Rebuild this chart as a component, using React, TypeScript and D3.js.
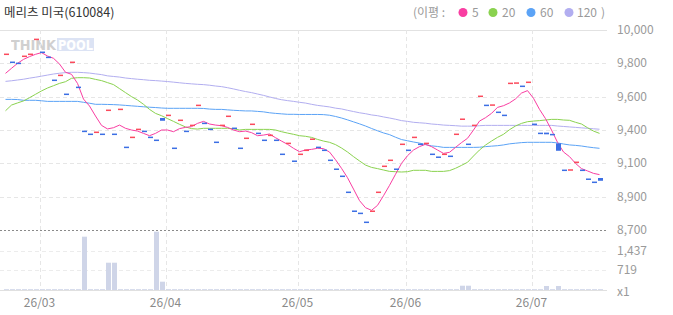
import React from 'react';
import * as d3 from 'd3';

// ---- data (daily, 100 sessions) ----
const closes = [
  9842, 9790, 9783, 9829, 9842, 9939, 9855, 9822, 9673, 9705,
  9582, 9790, 9627, 9341, 9322, 9335, 9322, 9478, 9322, 9484,
  9237, 9302, 9354, 9341, 9302, 9283, 9410, 9445, 9231, 9413,
  9341, 9380, 9510, 9393, 9354, 9270, 9380, 9439, 9361, 9231,
  9296, 9387, 9328, 9283, 9315, 9283, 9192, 9263, 9147, 9192,
  9218, 9290, 9237, 9218, 9153, 9095, 9049, 8945, 8822, 8808,
  8750, 8822, 8945, 9114, 9153, 9095, 9257, 9218, 9302, 9257,
  9263, 9192, 9173, 9192, 9179, 9322, 9420, 9257, 9380, 9569,
  9510, 9512, 9465, 9445, 9653, 9655, 9634, 9660, 9387, 9328,
  9322, 9320, 9215, 9088, 9090, 9140, 9088, 9030, 9010, 9020,
];

const opens = [
  9842, 9790, 9783, 9829, 9842, 9939, 9855, 9822, 9673, 9705,
  9582, 9790, 9627, 9341, 9322, 9335, 9322, 9478, 9322, 9484,
  9237, 9302, 9354, 9341, 9302, 9283, 9428, 9445, 9231, 9413,
  9341, 9380, 9510, 9393, 9354, 9270, 9380, 9439, 9361, 9231,
  9296, 9387, 9328, 9283, 9315, 9283, 9192, 9263, 9147, 9192,
  9218, 9290, 9237, 9218, 9153, 9095, 9049, 8945, 8822, 8808,
  8750, 8822, 8945, 9114, 9153, 9095, 9257, 9218, 9302, 9257,
  9263, 9192, 9173, 9192, 9179, 9322, 9420, 9257, 9380, 9569,
  9510, 9512, 9465, 9445, 9653, 9655, 9634, 9660, 9387, 9328,
  9333, 9320, 9263, 9088, 9090, 9140, 9088, 9030, 9010, 9038,
];

const volumes = [
  30, 30, 30, 30, 30, 30, 30, 30, 30, 30,
  30, 30, 30, 1965, 30, 30, 30, 1006, 1006, 30,
  30, 30, 30, 30, 30, 2150, 306, 30, 30, 30,
  30, 30, 30, 30, 30, 30, 30, 30, 30, 30,
  30, 30, 30, 30, 30, 30, 30, 30, 30, 30,
  30, 30, 30, 30, 30, 30, 30, 30, 30, 30,
  30, 30, 30, 30, 30, 30, 30, 30, 30, 30,
  30, 30, 30, 30, 30, 30, 158, 158, 30, 30,
  30, 30, 30, 30, 30, 30, 30, 30, 30, 30,
  147, 30, 147, 30, 30, 30, 30, 30, 30, 30,
];

const ma5 = [
  9718, 9751, 9783, 9809, 9827, 9842, 9853, 9831, 9816, 9779,
  9725, 9712, 9653, 9551, 9506, 9441, 9380, 9357, 9365, 9382,
  9361, 9350, 9343, 9328, 9313, 9328, 9350, 9350, 9339, 9359,
  9367, 9372, 9393, 9406, 9389, 9382, 9378, 9367, 9350, 9339,
  9343, 9333, 9313, 9317, 9324, 9300, 9278, 9257, 9231, 9209,
  9220, 9224, 9231, 9229, 9207, 9157, 9101, 9040, 8966, 8891,
  8845, 8828, 8860, 8923, 8990, 9062, 9133, 9183, 9220, 9242,
  9257, 9242, 9220, 9198, 9205, 9237, 9268, 9296, 9350, 9408,
  9430, 9458, 9497, 9508, 9526, 9552, 9590, 9606, 9556, 9484,
  9424, 9350, 9270, 9207, 9177, 9133, 9099, 9084, 9068, 9060,
];

const ma20 = [
  9475, 9512, 9526, 9539, 9560, 9582, 9604, 9623, 9638, 9653,
  9664, 9686, 9690, 9690, 9688, 9679, 9671, 9658, 9645, 9619,
  9593, 9567, 9545, 9517, 9484, 9458, 9443, 9424, 9406, 9387,
  9370, 9359, 9356, 9361, 9361, 9361, 9361, 9361, 9358, 9350,
  9354, 9354, 9354, 9354, 9354, 9350, 9339, 9330, 9322, 9313,
  9309, 9302, 9289, 9278, 9270, 9255, 9233, 9207, 9177, 9149,
  9122, 9107, 9099, 9090, 9081, 9079, 9077, 9079, 9088, 9088,
  9088, 9081, 9081, 9081, 9086, 9101, 9120, 9140, 9181, 9220,
  9252, 9278, 9302, 9322, 9352, 9376, 9393, 9404, 9408, 9411,
  9415, 9419, 9419, 9415, 9413, 9400, 9389, 9365, 9343, 9328,
];

const ma60 = [
  9549, 9549, 9548, 9543, 9543, 9543, 9540, 9536, 9536, 9536,
  9536, 9536, 9536, 9530, 9524, 9517, 9517, 9516, 9515, 9513,
  9510, 9507, 9504, 9501, 9498, 9496, 9493, 9491, 9491, 9491,
  9491, 9491, 9491, 9490, 9486, 9484, 9484, 9481, 9478, 9476,
  9474, 9474, 9471, 9468, 9462, 9458, 9455, 9452, 9452, 9451,
  9451, 9451, 9451, 9450, 9446, 9438, 9428, 9416, 9403, 9390,
  9376, 9360, 9345, 9331, 9320, 9303, 9288, 9280, 9272, 9265,
  9255, 9247, 9243, 9237, 9237, 9237, 9237, 9237, 9237, 9238,
  9242, 9245, 9248, 9253, 9260, 9264, 9268, 9270, 9270, 9270,
  9270, 9270, 9266, 9259, 9253, 9250, 9246, 9240, 9235, 9231,
];

const ma120 = [
  9666, 9670, 9675, 9680, 9687, 9693, 9700, 9707, 9714, 9719,
  9723, 9725, 9725, 9723, 9720, 9715, 9710, 9702, 9698, 9694,
  9688, 9684, 9680, 9677, 9673, 9671, 9668, 9665, 9661, 9657,
  9653, 9650, 9647, 9645, 9641, 9636, 9632, 9625, 9617, 9608,
  9600, 9593, 9584, 9575, 9565, 9555, 9547, 9541, 9536, 9530,
  9525, 9517, 9510, 9505, 9500, 9492, 9487, 9478, 9470, 9462,
  9456, 9448, 9443, 9435, 9428, 9420, 9411, 9406, 9400, 9397,
  9394, 9389, 9386, 9382, 9380, 9378, 9375, 9375, 9375, 9378,
  9380, 9380, 9380, 9380, 9380, 9380, 9380, 9380, 9380, 9380,
  9380, 9380, 9376, 9373, 9370, 9367, 9364, 9361, 9358, 9355,
];

// axis ticks
const priceTickValues = [10000, 9783, 9567, 9350, 9133, 8917, 8700];
const priceTickLabels = ['10,000', '9,800', '9,600', '9,400', '9,100', '8,900', '8,700'];
const volTickValues = [1437, 719, 0];
const volTickLabels = ['1,437', '719', 'x1'];
const monthStartIdx = [6, 27, 49, 67, 88];
const monthLabels = ['26/03', '26/04', '26/05', '26/06', '26/07'];

const maSeries = [
  { name: '5', values: ma5, color: '#f93ea2' },
  { name: '20', values: ma20, color: '#8ad24f' },
  { name: '60', values: ma60, color: '#5ba3f6' },
  { name: '120', values: ma120, color: '#b2aef0' },
];

const UP = '#fb4a5c';
const DOWN = '#3c6fe4';
const FONT = '"Noto Sans CJK KR", "Noto Sans", sans-serif';

export default function App() {
  const width = 673;
  const height = 315;

  const x = d3.scaleBand<number>().domain(d3.range(closes.length)).range([3, 603]);
  const y = d3.scaleLinear().domain([8700, 10000]).range([230, 30]);
  const yv = d3.scaleLinear().domain([0, 2156]).range([290, 231.5]);

  const line = d3
    .line<number>()
    .x((_, i) => (x(i) as number) + 2.5)
    .y((v) => y(v));

  const candleColor = (i: number) => {
    if (opens[i] !== closes[i]) return closes[i] > opens[i] ? UP : DOWN;
    if (i === 0) return UP;
    return closes[i] >= closes[i - 1] ? UP : DOWN;
  };

  const legendItems = [
    { cx: 463, tx: 472 },
    { cx: 493, tx: 502 },
    { cx: 531, tx: 540 },
    { cx: 569, tx: 577 },
  ];

  return (
    <svg
      width={width}
      height={height}
      style={{ position: 'absolute', left: 0, top: 0, background: '#fff' }}
      fontFamily={FONT}
    >
      {/* title + legend */}
      <text x={4} y={17} fontSize={12.5} fill="#333">
        메리츠 미국(610084)
      </text>
      <text x={413} y={16.5} fontSize={12} fill="#9a9a9a">
        (이평 :
      </text>
      {maSeries.map((s, k) => (
        <g key={s.name}>
          <circle cx={legendItems[k].cx} cy={12.5} r={4.5} fill={s.color} />
          <text x={legendItems[k].tx} y={16.5} fontSize={12} fill="#9a9a9a">
            {s.name}
          </text>
        </g>
      ))}
      <text x={601} y={16.5} fontSize={12} fill="#9a9a9a">
        )
      </text>

      {/* watermark */}
      <g opacity={0.85}>
        <text x={11} y={50} fontSize={14} fontWeight={900} fill="#c8c8c8" textLength={45} lengthAdjust="spacingAndGlyphs" fontFamily="DejaVu Sans">
          THINK
        </text>
        <rect x={57} y={38} width={37} height={13} fill="#d7dff3" />
        <text x={58} y={50} fontSize={14} fontWeight={900} fill="#ffffff" textLength={35} lengthAdjust="spacingAndGlyphs" fontFamily="DejaVu Sans">
          POOL
        </text>
      </g>

      {/* horizontal grid, price panel */}
      {priceTickValues.map((v, k) => {
        const yy = Math.round(y(v)) + 0.5;
        const isTop = k === 0;
        const isBottom = k === priceTickValues.length - 1;
        return (
          <line
            key={`pg${k}`}
            x1={0}
            x2={607}
            y1={yy}
            y2={yy}
            stroke={isBottom ? '#8a8a8a' : isTop ? '#e2e2e2' : '#e6e6e6'}
            strokeDasharray={isTop ? undefined : isBottom ? '2,2' : '4,3'}
            strokeWidth={1}
          />
        );
      })}
      {/* horizontal grid, volume panel */}
      {volTickValues.map((v, k) => {
        const yy = Math.round(yv(v)) + 0.5;
        return (
          <line
            key={`vg${k}`}
            x1={0}
            x2={607}
            y1={yy}
            y2={yy}
            stroke={v === 0 ? '#e0e0e0' : '#ececec'}
            strokeDasharray={v === 0 ? undefined : '4,3'}
          />
        );
      })}

      {/* vertical month grid */}
      {monthStartIdx.map((i, k) => {
        const xx = (x(i) as number) + 1.5;
        return (
          <g key={`m${k}`}>
            <line x1={xx} x2={xx} y1={30} y2={290} stroke="#e6e6e6" strokeDasharray="4,3" />
            <text x={xx - 1} y={307} fontSize={12} fill="#8a8a8a" textAnchor="middle">
              {monthLabels[k]}
            </text>
          </g>
        );
      })}

      {/* volume bars */}
      {volumes.map((v, i) => (
        <rect
          key={`v${i}`}
          x={(x(i) as number) + 1}
          width={x.bandwidth() - 1}
          y={yv(v)}
          height={yv(0) - yv(v)}
          fill="#cfd5e8"
        />
      ))}

      {/* moving averages */}
      {maSeries
        .slice()
        .reverse()
        .map((s) => (
          <path key={`ma${s.name}`} d={line(s.values) || ''} fill="none" stroke={s.color} strokeWidth={1} />
        ))}

      {/* candles */}
      {closes.map((c, i) => {
        const o = opens[i];
        const top = y(Math.max(o, c));
        const h = Math.max(1.5, Math.abs(y(o) - y(c)));
        return (
          <rect
            key={`c${i}`}
            x={(x(i) as number) + 1}
            width={x.bandwidth() - 1}
            y={top - (h === 1.5 ? 0.75 : 0)}
            height={h}
            fill={candleColor(i)}
          />
        );
      })}

      {/* right axis labels */}
      {priceTickValues.map((v, k) => (
        <text key={`pl${k}`} x={617} y={y(v) + 4} fontSize={12} fill="#9a9a9a">
          {priceTickLabels[k]}
        </text>
      ))}
      {volTickValues.map((v, k) => (
        <text key={`vl${k}`} x={617} y={yv(v) + 4 + (v === 0 ? 2 : 0)} fontSize={12} fill="#9a9a9a">
          {volTickLabels[k]}
        </text>
      ))}
    </svg>
  );
}
